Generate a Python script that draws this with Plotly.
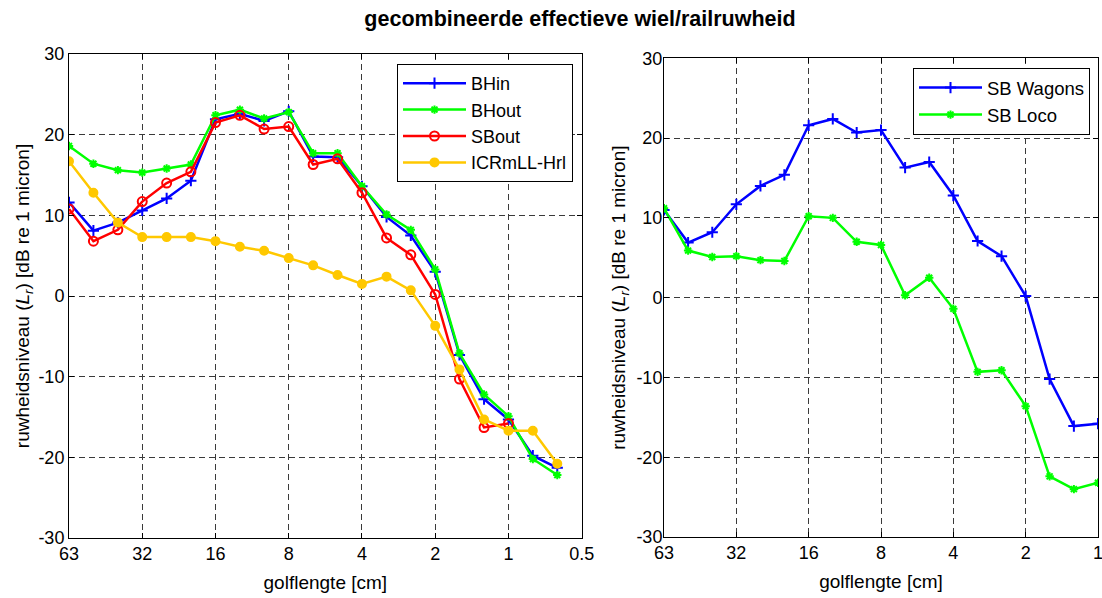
import math
import plotly.graph_objects as go

# golflengte (wavelength) in cm, third-octave bands
wavelength = [64, 50.8, 40.3, 32, 25.4, 20.2, 16, 12.7, 10.1, 8, 6.35, 5.04,
              4, 3.17, 2.52, 2, 1.59, 1.26, 1, 0.794, 0.63]

bhin = [11.6, 8.1, 9.1, 10.6, 12.1, 14.3, 21.9, 22.6, 21.7, 22.9, 17.3, 17.2,
        13.6, 9.8, 7.5, 3.0, -7.3, -12.8, -15.3, -19.8, -21.3]
bhout = [18.6, 16.4, 15.6, 15.3, 15.8, 16.3, 22.4, 23.1, 22.0, 22.8, 17.7, 17.7,
         13.6, 10.1, 8.2, 3.3, -7.1, -12.2, -14.9, -20.2, -22.2]
sbout = [10.8, 6.8, 8.2, 11.7, 14.0, 15.4, 21.5, 22.4, 20.7, 21.0, 16.3, 17.0,
         12.8, 7.2, 5.1, 0.2, -10.3, -16.3, -15.8]
icrmll = [16.7, 12.8, 9.1, 7.3, 7.3, 7.3, 6.8, 6.1, 5.6, 4.7, 3.8, 2.6,
          1.5, 2.4, 0.7, -3.7, -9.1, -15.3, -16.7, -16.7, -20.8]

sb_wagons = [11.0, 6.9, 8.2, 11.7, 14.0, 15.4, 21.6, 22.4, 20.7, 21.0, 16.3, 17.0,
             12.8, 7.1, 5.2, 0.2, -10.2, -16.1, -15.8]
sb_loco = [11.2, 5.9, 5.1, 5.2, 4.7, 4.6, 10.2, 10.0, 7.0, 6.6, 0.3, 2.5,
           -1.4, -9.3, -9.1, -13.6, -22.4, -24.0, -23.2]

tick_vals_left = [64, 32, 16, 8, 4, 2, 1, 0.5]
tick_text_left = ["63", "32", "16", "8", "4", "2", "1", "0.5"]
tick_vals_right = [64, 32, 16, 8, 4, 2, 1]
tick_text_right = ["63", "32", "16", "8", "4", "2", "1"]
y_ticks = [-30, -20, -10, 0, 10, 20, 30]
y_tick_text = ["-30", "-20", "-10", "0", "10", "20", "30"]

BLUE = "#0000FF"
GREEN = "#00FF00"
RED = "#FF0000"
YELLOW = "#FFC800"
FONT = "Liberation Sans, Arial, sans-serif"

fig = go.Figure()


def add(x, y, name, color, symbol, size, xa, ya, legend):
    fig.add_trace(go.Scatter(
        x=x[:len(y)], y=y, name=name, mode="lines+markers",
        line=dict(color=color, width=2.5),
        marker=dict(symbol=symbol, size=size, color=color,
                    line=dict(color=color, width=2)),
        xaxis=xa, yaxis=ya, legend=legend))


add(wavelength, bhin, "BHin", BLUE, "cross-thin-open", 8, "x", "y", "legend")
add(wavelength, bhout, "BHout", GREEN, "asterisk-open", 7, "x", "y", "legend")
add(wavelength, sbout, "SBout", RED, "circle-open", 9, "x", "y", "legend")
add(wavelength, icrmll, "ICRmLL-Hrl", YELLOW, "circle", 8, "x", "y", "legend")
add(wavelength, sb_wagons, "SB Wagons", BLUE, "cross-thin-open", 8, "x2", "y2", "legend2")
add(wavelength, sb_loco, "SB Loco", GREEN, "asterisk-open", 7, "x2", "y2", "legend2")

L, R, T, B = 69, 4, 54, 60
W, H = 1102, 598
pw = W - L - R
ph = H - T - B


def px(xpix):
    return (xpix - L) / pw


def py(ypix):
    return (H - B - ypix) / ph


grid = dict(showgrid=True, gridcolor="#3a3a3a", gridwidth=1, griddash="6px,4px",
            showline=True, linecolor="black", linewidth=1, mirror="ticks",
            ticks="inside", ticklen=5, tickcolor="black", zeroline=False,
            ticklabeloverflow="allow",
            tickfont=dict(family=FONT, size=18, color="black"))

ytitle = "ruwheidsniveau (<i>L</i><sub><i>r</i></sub>) [dB re 1 micron]"

fig.update_layout(
    width=W, height=H,
    margin=dict(l=L, r=R, t=T, b=B, autoexpand=False),
    paper_bgcolor="white", plot_bgcolor="white",
    font=dict(family=FONT, color="black", size=18),
    title=dict(text="<b>gecombineerde effectieve wiel/railruwheid</b>",
               x=580 / W, xanchor="center", y=1 - 18 / H, yanchor="middle",
               font=dict(family=FONT, size=21.5, color="black")),
    xaxis=dict(type="log", domain=[0, px(581.7)],
               range=[math.log10(64), math.log10(0.5)],
               tickvals=tick_vals_left, ticktext=tick_text_left,
               ticklabelstandoff=-1,
               title=dict(text="golflengte [cm]", standoff=13,
                          font=dict(family=FONT, size=19)),
               anchor="y", automargin=False, **grid),
    yaxis=dict(domain=[0, 1], range=[-30, 30],
               tickvals=y_ticks, ticktext=y_tick_text,
               title=dict(text=ytitle, standoff=3, font=dict(family=FONT, size=19)),
               anchor="x", automargin=True, **grid),
    xaxis2=dict(type="log", domain=[px(664), px(1098)],
                range=[math.log10(64), 0],
                tickvals=tick_vals_right, ticktext=tick_text_right,
                ticklabelstandoff=-1,
                title=dict(text="golflengte [cm]", standoff=13,
                           font=dict(family=FONT, size=19)),
                anchor="y2", automargin=False, **grid),
    yaxis2=dict(domain=[py(537), py(58.3)], range=[-30, 30],
                tickvals=y_ticks, ticktext=y_tick_text,
                ticklabelstandoff=-3,
                title=dict(text=ytitle, standoff=5, font=dict(family=FONT, size=19)),
                anchor="x2", automargin=True, **grid),
    legend=dict(x=px(573), xanchor="right", y=py(64), yanchor="top",
                bgcolor="white", bordercolor="black", borderwidth=1,
                itemwidth=63,
                font=dict(family=FONT, size=18, color="black")),
    legend2=dict(x=px(1090), xanchor="right", y=py(68), yanchor="top",
                 bgcolor="white", bordercolor="black", borderwidth=1,
                 itemwidth=63,
                 font=dict(family=FONT, size=18.5, color="black")),
)

fig.write_html("out.html",
               config={"displayModeBar": False},
               post_script="document.body.style.margin='0px';"
                           "document.body.style.overflow='hidden';")
